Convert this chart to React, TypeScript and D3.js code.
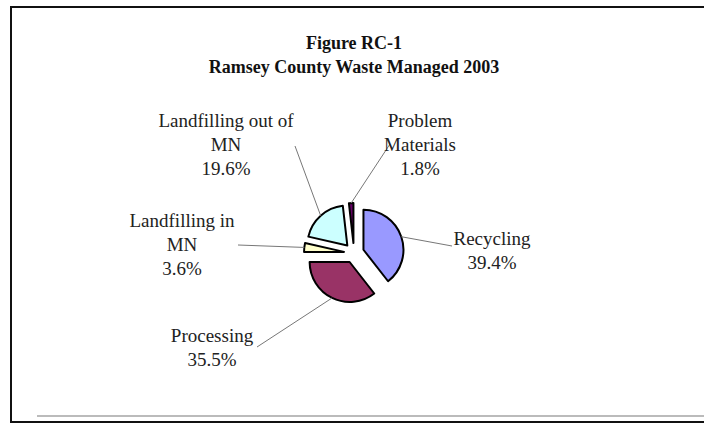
import React from 'react';
import * as d3 from 'd3';

const categories = ['Recycling', 'Processing', 'Landfilling in MN', 'Landfilling out of MN', 'Problem Materials'];
const values = [39.4, 35.5, 3.6, 19.6, 1.8];
const labelLines = [
  ['Recycling', '39.4%'],
  ['Processing', '35.5%'],
  ['Landfilling in', 'MN', '3.6%'],
  ['Landfilling out of', 'MN', '19.6%'],
  ['Problem', 'Materials', '1.8%'],
];
const colors = ['#9999ff', '#993366', '#ffffcc', '#ccffff', '#660066'];
const titleLines = ['Figure RC-1', 'Ramsey County Waste Managed 2003'];

const W = 704;
const H = 423;
const CX = 354;
const CY = 253;
const R = 40;
const EXPLODE = 10;

// label anchor layout (text centre x, first line middle y, leader end)
const labelLayout = [
  { x: 492, y: 238, lx: 452, ly: 246 },
  { x: 212, y: 335, lx: 257, ly: 347 },
  { x: 182, y: 220, lx: 238, ly: 245 },
  { x: 226, y: 120, lx: 295, ly: 146 },
  { x: 420, y: 120, lx: 390, ly: 144 },
];

export default function App() {
  const data = categories.map((c, i) => ({ name: c, value: values[i], i }));
  const pie = d3.pie<any>().value((d) => d.value).sort(null).startAngle(0).endAngle(2 * Math.PI);
  const arcs = pie(data);
  const arc = d3.arc<any>().innerRadius(0).outerRadius(R);
  const font = '"Liberation Serif", "Times New Roman", serif';

  return (
    <svg width={W} height={H} style={{ position: 'absolute', left: 0, top: 0, display: 'block', background: '#fff' }}>
      <rect x={11} y={7} width={W + 10} height={415} fill="#fff" stroke="#111" strokeWidth={2} />
      <line x1={37} x2={W} y1={416} y2={416} stroke="#bbb" strokeWidth={2} />
      {titleLines.map((t, i) => (
        <text key={t} x={354} y={49 + i * 24} textAnchor="middle" fontFamily={font} fontWeight="bold" fontSize={18} fill="#111">
          {t}
        </text>
      ))}
      {arcs.map((a, k) => {
        const mid = (a.startAngle + a.endAngle) / 2;
        const dx = EXPLODE * Math.sin(mid);
        const dy = -EXPLODE * Math.cos(mid);
        const ox = CX + dx + R * Math.sin(mid);
        const oy = CY + dy - R * Math.cos(mid);
        const L = labelLayout[k];
        return (
          <g key={k}>
            <path d={arc(a) as string} transform={`translate(${CX + dx},${CY + dy})`} fill={colors[k]} stroke="#000" strokeWidth={2} strokeLinejoin="round" />
            <line x1={ox} y1={oy} x2={L.lx} y2={L.ly} stroke="#777" strokeWidth={1} />
          </g>
        );
      })}
      {arcs.map((a, k) => {
        const L = labelLayout[k];
        return (
          <text key={'t' + k} textAnchor="middle" fontFamily={font} fontSize={19} fill="#222">
            {labelLines[k].map((ln, j) => (
              <tspan key={j} x={L.x} y={L.y + j * 24} dy="0.35em">
                {ln}
              </tspan>
            ))}
          </text>
        );
      })}
    </svg>
  );
}
